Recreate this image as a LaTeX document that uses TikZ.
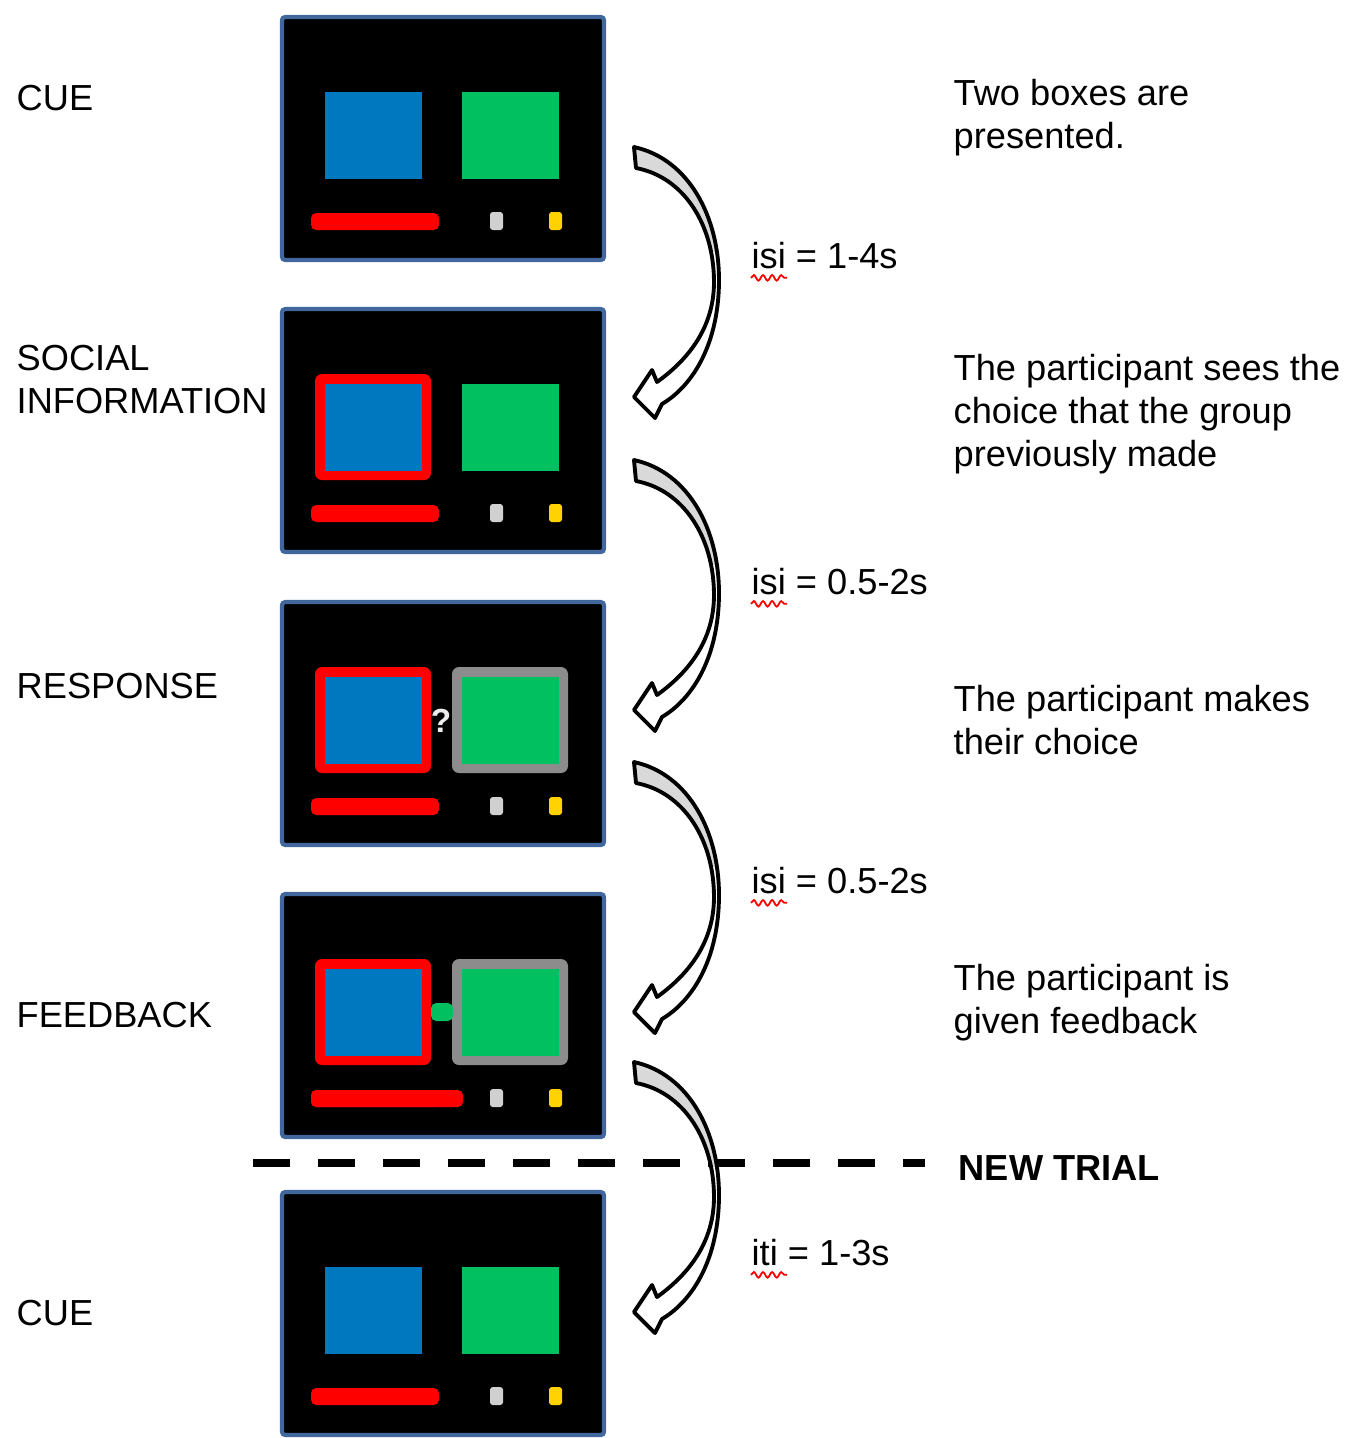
\documentclass[tikz,border=0pt]{standalone}
\usepackage{fontspec}
\setmainfont{Liberation Sans}
\usetikzlibrary{decorations.pathmorphing}
\definecolor{scrblue}{HTML}{41679C}
\definecolor{boxblue}{HTML}{0078C0}
\definecolor{boxgreen}{HTML}{00C060}
\definecolor{framegray}{HTML}{8C8C8C}
\definecolor{dotgray}{HTML}{D0D0D0}
\definecolor{dotyellow}{HTML}{FFD200}
\definecolor{arrowgray}{HTML}{D9D9D9}
\newcommand{\labelfont}{\fontsize{10.3}{12.2}\selectfont}
\def\arrowpath{(0,0) .. controls (55,12) and (85,70) .. (85,133) .. controls (85,195) and (60,238) .. (28,257) -- (21,271) -- (0,250) -- (18,223) -- (23,235) .. controls (55,212) and (80,180) .. (80,135) .. controls (80,78) and (50,30) .. (2,21) -- cycle}

\begin{document}
\begin{tikzpicture}[x=0.01cm,y=-0.01cm,every node/.style={inner sep=0pt,font=\labelfont}]
                \tikzstyle{screen}=[draw=scrblue,line width=1.2pt,fill=black,rounded corners=1pt,minimum width=3.22cm,minimum height=2.43cm]
                \tikzstyle{txt}=[anchor=base west,align=left]
                \tikzstyle{squiggle}=[red,line width=0.5pt,decorate,decoration={snake,amplitude=0.8pt,segment length=2.6pt}]
                \tikzstyle{trial}=[line width=0.08cm,dash pattern=on 0.37cm off 0.28cm]
                
                \useasboundingbox (0,0) rectangle (1367,1438);
                
                \foreach \i/\dy in {1/0,2/292,3/585,4/877,5/1175}{
                    \node[screen] (scr\i) at (443,138.5+\dy) {};
                    \ifnum\i>1 \ifnum\i<5 \fill[red,rounded corners=2pt] (315,82+\dy) rectangle (431,188+\dy); \fi\fi
                    \ifnum\i>2 \ifnum\i<5 \fill[framegray,rounded corners=2pt] (452,82+\dy) rectangle (568,188+\dy); \fi\fi
                    \fill[boxblue] (325,92+\dy) rectangle (422,179+\dy);
                    \fill[boxgreen] (462,92+\dy) rectangle (559,179+\dy);
                    \fill[red,rounded corners=1.5pt] (311,213+\dy) rectangle (439,230+\dy);
                    \fill[dotgray,rounded corners=0.8pt] (490,212+\dy) rectangle (503,230+\dy);
                    \fill[dotyellow,rounded corners=0.8pt] (549,212+\dy) rectangle (562,230+\dy);
                }
                
                \node[font=\bfseries\fontsize{9.5}{9.5}\selectfont,text=white!85!gray] (qmark) at (441,721) {?};
                \fill[boxgreen,rounded corners=1.5pt] (431,1003) rectangle (453,1021);
                \fill[red,rounded corners=1.5pt] (311,1090) rectangle (463,1107);
                
                \node[txt] (cue1) at (16,110) {CUE};
                \node[txt] (social) at (16,413) {SOCIAL\\INFORMATION};
                \node[txt] (resp) at (16,698) {RESPONSE};
                \node[txt] (feed) at (16,1027) {FEEDBACK};
                \node[txt] (cue2) at (16,1325) {CUE};
                
                \node[txt] (d1) at (953,148) {Two boxes are\\presented.};
                \node[txt] (d2) at (953,466) {The participant sees the\\choice that the group\\previously made};
                \node[txt] (d3) at (953,754) {The participant makes\\their choice};
                \node[txt] (d4) at (953,1033) {The participant is\\given feedback};
                
                \node[txt] (isi1) at (751,268) {isi = 1-4s};
                \node[txt] (isi2) at (751,594) {isi = 0.5-2s};
                \node[txt] (isi3) at (751,893) {isi = 0.5-2s};
                \node[txt] (iti) at (751,1265) {iti = 1-3s};
                \foreach \n in {isi1,isi2,isi3,iti}
                    \draw[squiggle] ([yshift=-2.8pt]\n.base west) -- ++(36,0);
                
                \node[txt,font=\labelfont\bfseries] (newtrial) at (958,1180) {NEW TRIAL};
                \coordinate (sepL) at (253,1163);
                \coordinate (sepR) at (925,1163);
                \draw[trial] (sepL) -- (sepR);
                
                \foreach \ay in {147,460,762,1062}{
                    \begin{scope}[shift={(634,\ay)}]
                        \fill[white] \arrowpath;
                        \begin{scope}
                            \clip \arrowpath;
                            \fill[arrowgray] (-5,-5) rectangle (100,105);
                        \end{scope}
                        \draw[line width=1.1pt,line join=round] \arrowpath;
                    \end{scope}
                }
                
                \end{tikzpicture}
\end{document}
